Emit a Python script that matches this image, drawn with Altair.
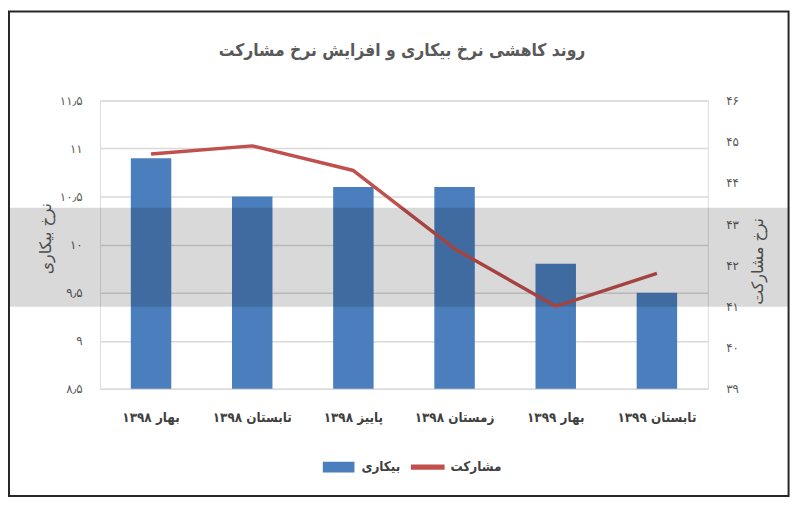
import altair as alt
import pandas as pd

# ---- data ----
categories = ['بهار ۱۳۹۸', 'تابستان ۱۳۹۸', 'پاییز ۱۳۹۸', 'زمستان ۱۳۹۸', 'بهار ۱۳۹۹', 'تابستان ۱۳۹۹']
unemployment = [10.9, 10.5, 10.6, 10.6, 9.8, 9.5]
participation = [44.7, 44.9, 44.3, 42.4, 41.0, 41.8]

left_ticks = [8.5, 9, 9.5, 10, 10.5, 11, 11.5]
left_tick_labels = ['۸٫۵', '۹', '۹٫۵', '۱۰', '۱۰٫۵', '۱۱', '۱۱٫۵']
right_ticks = [39, 40, 41, 42, 43, 44, 45, 46]
right_tick_labels = ['۳۹', '۴۰', '۴۱', '۴۲', '۴۳', '۴۴', '۴۵', '۴۶']

series_names = ['بیکاری', 'مشارکت']

title_text = 'روند کاهشی نرخ بیکاری و افزایش نرخ مشارکت'
left_title = 'نرخ بیکاری'
right_title = 'نرخ مشارکت'

# ---- styling ----
BLUE = '#4a7ebd'
RED = '#c0504d'
FONT = 'DejaVu Sans'
CFONT = 'DejaVu Sans Condensed, DejaVu Sans'
GRAY = '#595959'
DARK = '#404040'


def label_expr(values, labels):
    parts = [f"datum.value == {v} ? '{l}'" for v, l in zip(values, labels)]
    return " : ".join(parts) + " : ''"


df = pd.DataFrame({'period': categories, 'unemployment': unemployment, 'participation': participation})
leg_df = pd.DataFrame({'series': series_names})
one_df = pd.DataFrame({'k': [0]})

x_enc = alt.X(
    'period:N', sort=categories,
    scale=alt.Scale(paddingInner=0.6, paddingOuter=0.304),
    axis=alt.Axis(title=None, labelAngle=0, domain=False, ticks=False, grid=False,
                  labelPadding=22, labelFontSize=13.5, labelFontWeight='bold',
                  labelColor=DARK, labelFont=CFONT),
)

bars = alt.Chart(df).mark_bar(color=BLUE, clip=True).encode(
    x=x_enc,
    y=alt.Y('unemployment:Q',
            scale=alt.Scale(domain=[8.5, 11.5], zero=False, nice=False),
            axis=alt.Axis(orient='left', values=left_ticks,
                          labelExpr=label_expr(left_ticks, left_tick_labels),
                          title=left_title, grid=True, gridColor='#d9d9d9', gridWidth=1.5,
                          domain=False, ticks=False, labelPadding=18, labelFontSize=12,
                          labelColor=GRAY, labelFont=FONT,
                          titleAngle=270, titleX=-55, titleY=139, titleAlign='center',
                          titleBaseline='middle', titleFontSize=16, titleFontWeight='normal',
                          titleColor=GRAY, titleFont=FONT)),
)

line = alt.Chart(df).mark_line(color=RED, strokeWidth=3.5, strokeJoin='round').encode(
    x=x_enc,
    y=alt.Y('participation:Q',
            scale=alt.Scale(domain=[39, 46], zero=False, nice=False),
            axis=alt.Axis(orient='right', values=right_ticks,
                          labelExpr=label_expr(right_ticks, right_tick_labels),
                          title=right_title, grid=False,
                          domain=False, ticks=False, labelPadding=18, labelFontSize=12,
                          labelColor=GRAY, labelFont=FONT,
                          titleAngle=270, titleX=50, titleY=162, titleAlign='center',
                          titleBaseline='middle', titleFontSize=16, titleFontWeight='normal',
                          titleColor=GRAY, titleFont=FONT)),
)

path_box = 'M-0.94,-0.32H0.94V0.32H-0.94Z'
path_line = 'M-1,-0.15H1V0.15H-1Z'
legend_cfg = dict(title=None, orient='none', legendX=224, legendY=353, direction='horizontal',
                  symbolSize=1156, symbolStrokeWidth=0, labelFontSize=13.5, labelFontWeight='bold',
                  labelColor=DARK, labelFont=CFONT, columnPadding=10, labelOffset=6, padding=0,
                  symbolOpacity=1)

legend_layer = alt.Chart(leg_df).mark_point(filled=True, opacity=0).encode(
    color=alt.Color('series:N', scale=alt.Scale(domain=series_names, range=[BLUE, RED]),
                    legend=alt.Legend(**legend_cfg)),
    shape=alt.Shape('series:N', scale=alt.Scale(domain=series_names, range=[path_box, path_line]),
                    legend=alt.Legend(**legend_cfg)),
)

# watermark band (decoration) and outer frame
band = alt.Chart(one_df).mark_rect(color='black', opacity=0.15).encode(
    x=alt.value(-93), x2=alt.value(695), y=alt.value(108.3), y2=alt.value(208.3))
border = alt.Chart(one_df).mark_rect(fill='transparent', stroke='#262626', strokeWidth=2).encode(
    x=alt.value(-92), x2=alt.value(695.5), y=alt.value(-90), y2=alt.value(399.5))

chart = alt.layer(bars, line, legend_layer, band, border).resolve_scale(
    y='independent'
).properties(
    width=614, height=291,
    autosize=alt.AutoSizeParams(type='none'),
    padding={'left': 93, 'top': 91, 'right': 88, 'bottom': 116},
    title=alt.TitleParams(title_text, fontSize=17.5, fontWeight='bold', color=GRAY, font=CFONT,
                          anchor='middle', frame='group', baseline='middle', offset=-58, dx=-2),
).configure_view(strokeWidth=0).configure(font=FONT)

chart.save('out.html', embed_options={'renderer': 'svg', 'actions': False})
